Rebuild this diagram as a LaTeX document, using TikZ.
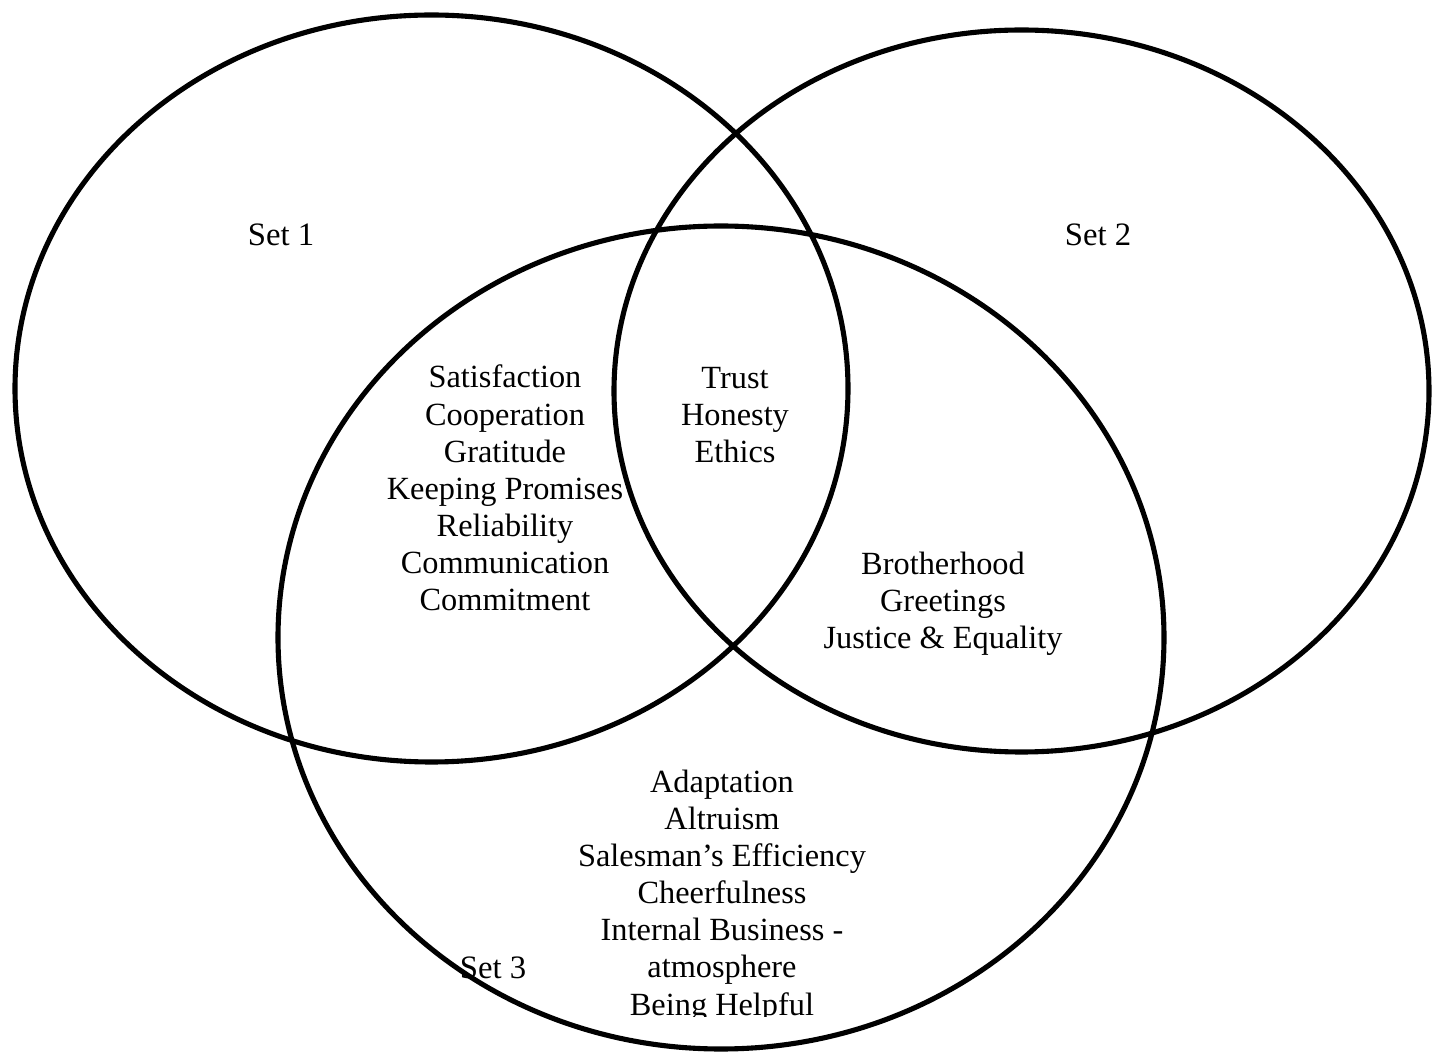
\documentclass[tikz,border=0pt]{standalone}
\usepackage{fontspec}
\setmainfont{Liberation Serif}
\usepackage{tikz}
\usetikzlibrary{positioning}

\tikzset{
  setline/.style={line width=1.45pt},
  setlabel/.style={inner sep=0pt, font=\fontsize{9.3}{10.5}\selectfont},
  items/.style={inner sep=0pt, align=center, font=\fontsize{9.2}{10.55}\selectfont}
}

\begin{document}
\begin{tikzpicture}[x=0.01cm, y=0.01cm]

\useasboundingbox (0,0) rectangle (1439,1051);

% The three sets (centre x/y, radius x/y)
\foreach \cx/\cy/\rx/\ry in {431.5/662.5/416.5/373.5, 1021.5/660/407.5/361, 721/413.5/443/411.5}
{
    \draw[setline] (\cx,\cy) ellipse [x radius=\rx, y radius=\ry];
}

% Set names
\node[setlabel] (set1) at (281,816) {Set 1};
\node[setlabel] (set2) at (1098,816) {Set 2};
\node[setlabel] (set3) at (493,83) {Set 3};

% Overlaps
\node[items] (onethree) at (505,563) {Satisfaction\\Cooperation\\Gratitude\\Keeping Promises\\Reliability\\Communication\\Commitment};
\node[items] (all) at (735,636) {Trust\\Honesty\\Ethics};
\node[items] (twothree) at (943,447) {Brotherhood\\Greetings\\Justice \& Equality};

% Set 3 only, cut off at the bottom
\begin{scope}
    \clip (0,35) rectangle (1439,1051);
    \node[items] (three) at (722,155) {Adaptation\\Altruism\\Salesman’s Efficiency\\Cheerfulness\\Internal Business -\\atmosphere\\Being Helpful};
\end{scope}

\end{tikzpicture}
\end{document}
